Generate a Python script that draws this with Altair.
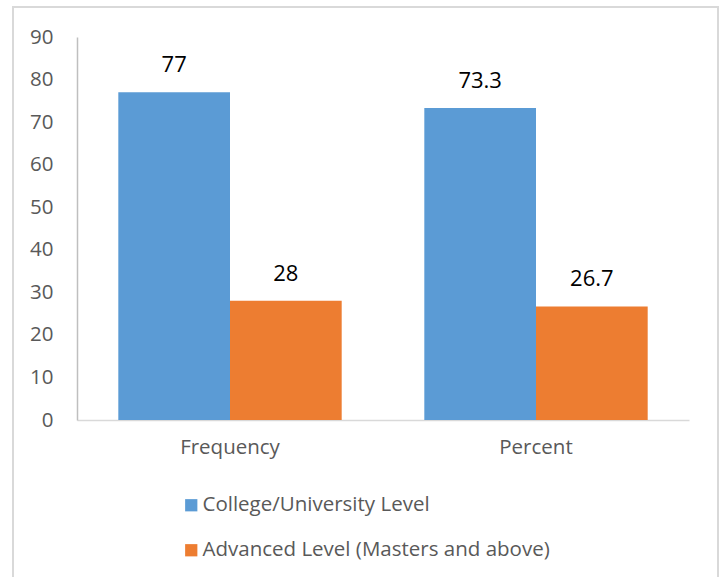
import altair as alt
import pandas as pd

categories = ["Frequency", "Frequency", "Percent", "Percent"]
series = ["College/University Level", "Advanced Level (Masters and above)",
          "College/University Level", "Advanced Level (Masters and above)"]
values = [77, 28, 73.3, 26.7]
labels = ["77", "28", "73.3", "26.7"]
series_order = ["College/University Level", "Advanced Level (Masters and above)"]
colors = ["#5B9BD5", "#ED7D31"]
y_ticks = [0, 10, 20, 30, 40, 50, 60, 70, 80, 90]

df = pd.DataFrame({"category": categories, "series": series, "value": values, "label": labels})

FONT = "Open Sans"
GRAY = "#595959"
FS = 20.5

x = alt.X("category:N", sort=["Frequency", "Percent"], title=None,
          scale=alt.Scale(paddingInner=0.27, paddingOuter=0.135),
          axis=alt.Axis(labelAngle=0, labelFontSize=FS, labelColor=GRAY, labelFont=FONT,
                        ticks=False, labelPadding=17, domainColor="#D9D9D9", domainWidth=1.5))
xo = alt.XOffset("series:N", sort=series_order, scale=alt.Scale(paddingInner=0, paddingOuter=0))
y = alt.Y("value:Q", title=None, scale=alt.Scale(domain=[0, 90], nice=False),
          axis=alt.Axis(values=y_ticks, grid=False, ticks=False, labelFontSize=FS,
                        labelColor=GRAY, labelFont=FONT, labelPadding=24,
                        domainColor="#BFBFBF", domainWidth=1.5))

bars = alt.Chart(df).mark_bar().encode(
    x=x, xOffset=xo, y=y,
    color=alt.Color("series:N", sort=series_order,
                    scale=alt.Scale(domain=series_order, range=colors),
                    legend=alt.Legend(title=None, orient="none", legendX=104, legendY=458,
                                      direction="vertical", symbolType="square", symbolSize=150,
                                      symbolStrokeWidth=0, labelFontSize=FS, labelColor=GRAY,
                                      labelFont=FONT, rowPadding=24, labelOffset=1,
                                      labelLimit=0, symbolOpacity=1))
)

text = alt.Chart(df).mark_text(dy=-27, fontSize=22, font=FONT, color="#000000",
                               baseline="middle").encode(
    x=x, xOffset=xo, y=y, text="label:N"
)

border = alt.Chart(df).mark_rect(fill=None, stroke="#D9D9D9", strokeWidth=1.5).encode(
    x=alt.value(-64), x2=alt.value(641), y=alt.value(-30), y2=alt.value(600)
)

chart = alt.layer(border, bars, text).properties(
    width=612, height=383,
    autosize=alt.AutoSizeParams(type="none"),
    padding={"left": 77, "top": 37, "right": 35, "bottom": 157},
).configure_view(stroke=None)

chart.save("out.html", embed_options={"renderer": "svg", "actions": False})
